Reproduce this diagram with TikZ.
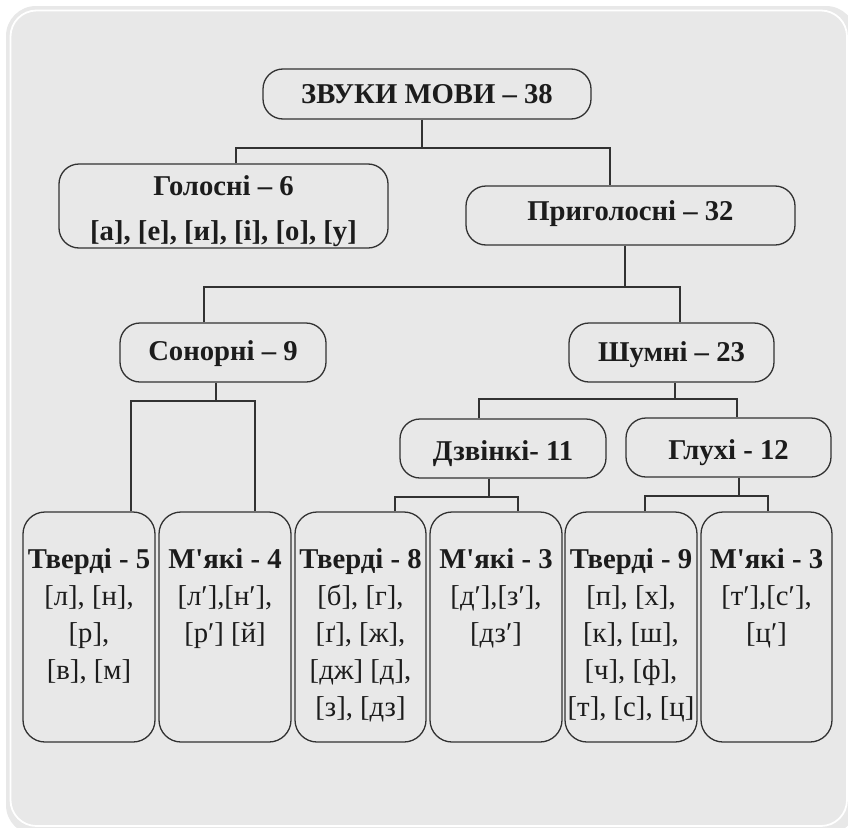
\documentclass[tikz,border=0pt]{standalone}
\usepackage{fontspec}
\setmainfont{Liberation Serif}
\newcommand{\apos}{\XeTeXglyph\XeTeXcharglyph"0027\relax}
\definecolor{panel}{RGB}{232,232,232}
\definecolor{ink}{RGB}{50,50,50}
\definecolor{txt}{RGB}{28,28,28}
\begin{document}
\begin{tikzpicture}[x=1pt,y=-1pt,
  box/.style={draw=ink, line width=1.3pt, rounded corners=20pt, inner sep=0pt},
  botbox/.style={box, rounded corners=22pt, minimum width=132pt, minimum height=230pt},
  con/.style={draw=ink, line width=1.1pt},
  lbl/.style={inner sep=0pt, text=txt, font=\fontsize{28.7}{37}\selectfont},
  lblb/.style={lbl, font=\fontsize{28.7}{37}\selectfont\bfseries},
  bottxt/.style={lbl, anchor=north, align=center, yshift=-37pt}]
\useasboundingbox (0,0) rectangle (848,827);
\fill[panel, rounded corners=30pt] (6,6) rectangle (856,835);
\draw[white, line width=1.8pt, rounded corners=26pt] (10.5,10.5) rectangle (847,826);

% boxes
\node[box, minimum width=328pt, minimum height=50pt] (top) at (427,94) {};
\node[box, minimum width=329pt, minimum height=84pt] (gol) at (223.5,206) {};
\node[box, minimum width=329pt, minimum height=59pt] (prig) at (630.5,215.5) {};
\node[box, minimum width=206pt, minimum height=59pt] (son) at (223,352.5) {};
\node[box, minimum width=205pt, minimum height=59pt] (shum) at (671.5,352.5) {};
\node[box, minimum width=206pt, minimum height=59pt] (dzv) at (503,448.5) {};
\node[box, minimum width=205pt, minimum height=59pt] (hlu) at (728.5,447.5) {};
\node[botbox] (b1) at (89,627) {};
\node[botbox] (b2) at (225,627) {};
\node[botbox, minimum width=131pt] (b3) at (360.5,627) {};
\node[botbox] (b4) at (496,627) {};
\node[botbox] (b5) at (631,627) {};
\node[botbox, minimum width=131pt] (b6) at (766.5,627) {};

% labels
\node[lblb, anchor=base] (topT) at (427,103) {ЗВУКИ МОВИ – 38};
\node[lblb, anchor=base] (golT) at (223.5,195) {Голосні – 6};
\node[lblb, anchor=base] (golL) at (223.5,240) {[а], [е], [и], [і], [о], [у]};
\node[lblb, anchor=base] (prigT) at (630.5,220) {Приголосні – 32};
\node[lblb, anchor=base] (sonT) at (223,360) {Сонорні – 9};
\node[lblb, anchor=base] (shumT) at (671.5,361) {Шумні – 23};
\node[lblb, anchor=base] (dzvT) at (503,460) {Дзвінкі- 11};
\node[lblb, anchor=base] (hluT) at (728.5,459) {Глухі - 12};

\node[bottxt] (b1T) at (b1.north) {{\bfseries Тверді - 5}\\{}[л], [н],\\{}[р],\\{}[в], [м]};
\node[bottxt] (b2T) at (b2.north) {{\bfseries М\apos{}які - 4}\\{}[л′],[н′],\\{}[р′] [й]};
\node[bottxt] (b3T) at (b3.north) {{\bfseries Тверді - 8}\\{}[б], [г],\\{}[ґ], [ж],\\{}[дж] [д],\\{}[з], [дз]};
\node[bottxt] (b4T) at (b4.north) {{\bfseries М\apos{}які - 3}\\{}[д′],[з′],\\{}[дз′]};
\node[bottxt] (b5T) at (b5.north) {{\bfseries Тверді - 9}\\{}[п], [х],\\{}[к], [ш],\\{}[ч], [ф],\\{}[т], [с], [ц]};
\node[bottxt] (b6T) at (b6.north) {{\bfseries М\apos{}які - 3}\\{}[т′],[с′],\\{}[ц′]};

% connectors
\coordinate (j0) at (422,148); \coordinate (j0l) at (236,148); \coordinate (j0r) at (610,148);
\draw[con] (top.south -| j0) -- (j0);
\draw[con] (gol.north -| j0l) -- (j0l) -- (j0r) -- (prig.north -| j0r);

\coordinate (j1) at (625,287); \coordinate (j1l) at (204,287); \coordinate (j1r) at (680,287);
\draw[con] (prig.south -| j1) -- (j1);
\draw[con] (son.north -| j1l) -- (j1l) -- (j1r) -- (shum.north -| j1r);

\coordinate (j2) at (216,401); \coordinate (j2l) at (131,401); \coordinate (j2r) at (255,401);
\draw[con] (son.south -| j2) -- (j2);
\draw[con] (b1.north -| j2l) -- (j2l) -- (j2r) -- (b2.north -| j2r);

\coordinate (j3) at (675,399); \coordinate (j3l) at (479,399); \coordinate (j3r) at (737,399);
\draw[con] (shum.south -| j3) -- (j3);
\draw[con] (dzv.north -| j3l) -- (j3l) -- (j3r) -- (hlu.north -| j3r);

\coordinate (j4) at (489,497); \coordinate (j4l) at (395,497); \coordinate (j4r) at (518,497);
\draw[con] (dzv.south -| j4) -- (j4);
\draw[con] (b3.north -| j4l) -- (j4l) -- (j4r) -- (b4.north -| j4r);

\coordinate (j5) at (739,496); \coordinate (j5l) at (645,496); \coordinate (j5r) at (768,496);
\draw[con] (hlu.south -| j5) -- (j5);
\draw[con] (b5.north -| j5l) -- (j5l) -- (j5r) -- (b6.north -| j5r);
\end{tikzpicture}
\end{document}
